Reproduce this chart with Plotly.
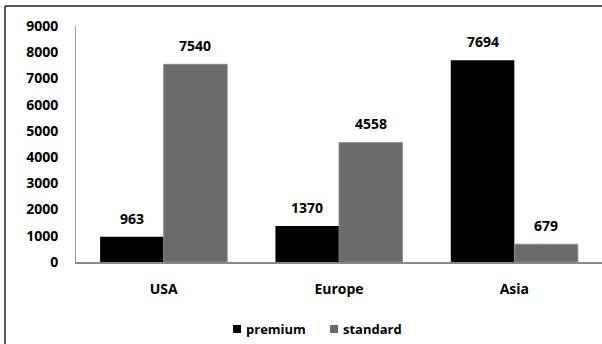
import plotly.graph_objects as go

categories = ["USA", "Europe", "Asia"]
premium = [963, 1370, 7694]
standard = [7540, 4558, 679]
y_ticks = [0, 1000, 2000, 3000, 4000, 5000, 6000, 7000, 8000, 9000]
series_names = ["premium", "standard"]
series_colors = ["#000000", "#6b6b6b"]

FONT = "Open Sans"
W, H = 602, 344
ML, MR, MT, MB = 76, 0, 26, 82
pw = W - ML - MR
ph = H - MT - MB


def px_x(p):
    return (p - ML) / pw


def px_y(p):
    return (ph - (p - MT)) / ph


fig = go.Figure()
for name, vals, col in zip(series_names, (premium, standard), series_colors):
    fig.add_trace(go.Bar(name=name, x=categories, y=vals, showlegend=False,
                         marker=dict(color=col,
                                     line=dict(width=0.8 if col != "#000000" else 0, color="#8a8a8a"))))

# value labels
band = pw / len(categories)
bar_w = band * (1 - 0.275) / 2
for series, sign in ((premium, -1), (standard, 1)):
    for c, v in zip(categories, series):
        fig.add_annotation(x=c, y=v, xref="x", yref="y", text=f"<b>{v}</b>",
                           showarrow=False, xshift=sign * bar_w / 2, yshift=7,
                           yanchor="bottom", font=dict(family=FONT, size=14, color="#000"))

# legend (bottom centre): small squares + labels
legend_x = [233, 330]
legend_cy = 329
for name, col, lx in zip(series_names, series_colors, legend_x):
    fig.add_shape(type="rect", xref="paper", yref="paper",
                  x0=px_x(lx), x1=px_x(lx + 8), y0=px_y(legend_cy - 4), y1=px_y(legend_cy + 4),
                  fillcolor=col, line=dict(width=0))
    fig.add_annotation(xref="paper", yref="paper", x=px_x(lx + 11), y=px_y(legend_cy),
                       xanchor="left", yanchor="middle", showarrow=False,
                       text=f"<b>{name}</b>", font=dict(family=FONT, size=13, color="#000"))

# outer frame (left and top edges)
x_left = px_x(5)
y_top = px_y(6)
y_bot = px_y(H + 2)
fig.add_shape(type="line", xref="paper", yref="paper", x0=x_left, x1=px_x(W + 5),
              y0=y_top, y1=y_top, line=dict(color="#222", width=1.5))
fig.add_shape(type="line", xref="paper", yref="paper", x0=x_left, x1=x_left,
              y0=y_top, y1=y_bot, line=dict(color="#222", width=1.5))

fig.update_layout(
    width=W, height=H,
    margin=dict(l=ML, r=MR, t=MT, b=MB),
    paper_bgcolor="white", plot_bgcolor="white",
    barmode="group", bargap=0.275, bargroupgap=0,
    font=dict(family=FONT, size=14, color="#000"),
    showlegend=False,
    xaxis=dict(showline=True, linecolor="#888", linewidth=1.5, ticks="",
               tickfont=dict(family=FONT, size=14, weight="bold"),
               ticklabelstandoff=13, showgrid=False),
    yaxis=dict(range=[0, 9000], tickvals=y_ticks, showline=True, linecolor="#999",
               linewidth=1, ticks="", showgrid=False, zeroline=False,
               tickfont=dict(family=FONT, size=14, weight="bold"),
               ticklabelstandoff=14),
)

fig.write_html("out.html")
